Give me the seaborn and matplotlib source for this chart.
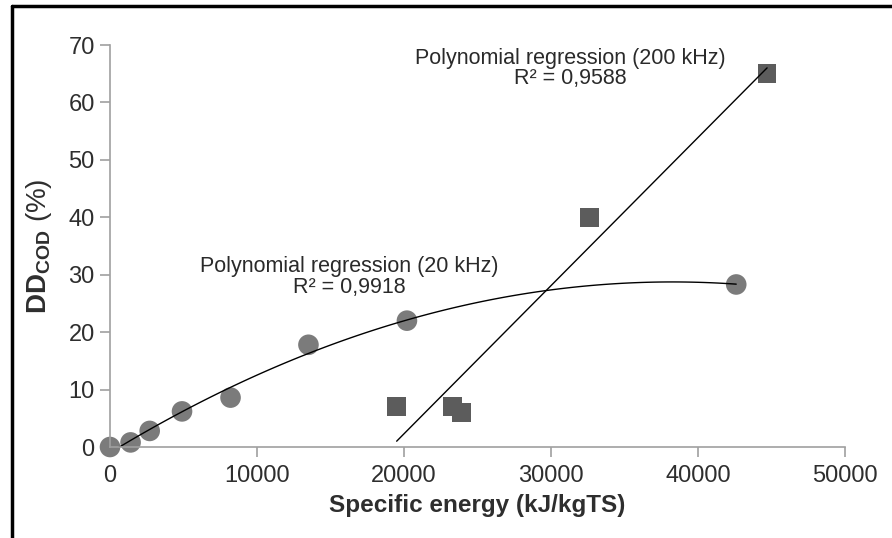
import matplotlib
matplotlib.use("Agg")
import matplotlib.pyplot as plt
import seaborn as sns
import pandas as pd
from matplotlib.lines import Line2D

# 20 kHz series (circles)
energy_20 = [0, 1400, 2700, 4900, 8200, 13500, 20200, 42600]
dd_20 = [0, 0.8, 2.8, 6.2, 8.6, 17.8, 22.0, 28.3]

# 200 kHz series (squares)
energy_200 = [19500, 23300, 23900, 32600, 44700]
dd_200 = [7.0, 7.0, 6.0, 40.0, 65.0]

x_ticks = [0, 10000, 20000, 30000, 40000, 50000]
y_ticks = [0, 10, 20, 30, 40, 50, 60, 70]

df20 = pd.DataFrame({"energy": energy_20, "dd": dd_20})
df200 = pd.DataFrame({"energy": energy_200, "dd": dd_200})

sns.set_style("white")
plt.rcParams["font.family"] = ["Liberation Sans", "DejaVu Sans"]
plt.rcParams["mathtext.fontset"] = "custom"
plt.rcParams["mathtext.rm"] = "Liberation Sans"
plt.rcParams["mathtext.bf"] = "Liberation Sans:bold"

fig = plt.figure(figsize=(8.92, 5.38), dpi=100)
ax = fig.add_axes([110 / 892, 91 / 538, 735 / 892, 402 / 538])

# trend lines
sns.regplot(data=df20, x="energy", y="dd", order=2, ci=None, scatter=False,
            color="black", line_kws={"lw": 1.0}, ax=ax)
sns.regplot(data=df200, x="energy", y="dd", order=1, ci=None, scatter=False,
            color="black", line_kws={"lw": 1.0}, ax=ax)

# markers
sns.scatterplot(data=df20, x="energy", y="dd", marker="o", s=220,
                color="#7b7b7b", edgecolor="none", ax=ax, clip_on=False, zorder=1)
sns.scatterplot(data=df200, x="energy", y="dd", marker="s", s=180,
                color="#5c5c5c", edgecolor="none", ax=ax, clip_on=False, zorder=1)

ax.set_xlim(0, 50000)
ax.set_ylim(0, 70)
ax.set_xticks(x_ticks)
ax.set_yticks(y_ticks)

for side in ["top", "right"]:
    ax.spines[side].set_visible(False)
for side in ["left", "bottom"]:
    ax.spines[side].set_color("#a0a0a0")
    ax.spines[side].set_linewidth(1.2)

ax.tick_params(axis="both", direction="out", length=7, width=1.2,
               color="#a0a0a0", labelsize=17, labelcolor="#2e2e2e",
               bottom=True, left=True)
ax.tick_params(axis="x", pad=6)
ax.tick_params(axis="y", pad=4)

ax.set_xlabel("Specific energy (kJ/kgTS)", fontsize=17.5, fontweight="bold",
              color="#2e2e2e", labelpad=5)
ax.set_ylabel(r"$\mathbf{DD}_{\mathbf{COD}}$ (%)", fontsize=20,
              color="#2e2e2e", labelpad=10)

ax.text(31300, 65.9, "Polynomial regression (200 kHz)\nR² = 0,9588",
        ha="center", va="center", fontsize=15.5, color="#2a2a2a", linespacing=0.95)
ax.text(16300, 29.6, "Polynomial regression (20 kHz)\nR² = 0,9918",
        ha="center", va="center", fontsize=15.5, color="#2a2a2a", linespacing=0.95)

# figure frame (left and top edges)
fig.add_artist(Line2D([12 / 892, 12 / 892], [0, 1 - 6 / 538], color="black", lw=2.5))
fig.add_artist(Line2D([12 / 892, 1], [1 - 6 / 538, 1 - 6 / 538], color="black", lw=2.5))

fig.savefig("out.png", dpi=100)
